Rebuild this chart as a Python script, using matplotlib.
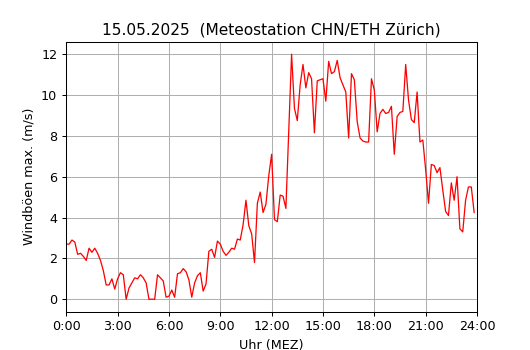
import matplotlib
matplotlib.use("Agg")
import matplotlib.pyplot as plt
import numpy as np

# 10-minute wind gust maxima (m/s), starting 0:00
gusts = [
    2.7, 2.7, 2.9, 2.8, 2.2, 2.25, 2.1, 1.9, 2.5, 2.3,
    2.5, 2.25, 1.9, 1.4, 0.7, 0.7, 1.0, 0.5, 1.0, 1.3,
    1.2, 0.0, 0.55, 0.8, 1.05, 1.0, 1.2, 1.05, 0.8, 0.0,
    0.0, 0.0, 1.2, 1.05, 0.9, 0.1, 0.15, 0.45, 0.1, 1.25,
    1.3, 1.5, 1.35, 0.95, 0.1, 0.8, 1.15, 1.3, 0.4, 0.75,
    2.35, 2.45, 2.05, 2.85, 2.7, 2.35, 2.15, 2.3, 2.5, 2.45,
    2.95, 2.9, 3.65, 4.85, 3.6, 3.2, 1.8, 4.7, 5.25, 4.25,
    4.65, 6.05, 7.1, 3.9, 3.8, 5.1, 5.05, 4.45, 8.2, 12.0,
    9.35, 8.75, 10.5, 11.5, 10.35, 11.1, 10.8, 8.15, 10.7, 10.75,
    10.8, 9.7, 11.65, 11.05, 11.15, 11.7, 10.85, 10.5, 10.15, 7.9,
    11.05, 10.75, 8.7, 7.9, 7.75, 7.7, 7.7, 10.8, 10.25, 8.2,
    9.1, 9.3, 9.1, 9.15, 9.45, 7.1, 8.95, 9.15, 9.2, 11.5,
    9.75, 8.8, 8.65, 10.15, 7.7, 7.8, 6.35, 4.7, 6.6, 6.55,
    6.2, 6.45, 5.35, 4.3, 4.1, 5.7, 4.85, 6.0, 3.45, 3.3,
    4.85, 5.5, 5.5, 4.25,
]
tick_hours = [0, 3, 6, 9, 12, 15, 18, 21, 24]
tick_labels = ["0:00", "3:00", "6:00", "9:00", "12:00", "15:00", "18:00", "21:00", "24:00"]

hours = np.arange(len(gusts)) / 6.0

DPI = 92
fig, ax = plt.subplots(figsize=(530 / DPI, 350 / DPI), dpi=DPI)
ax.plot(hours, gusts, color="red", linewidth=1.0)
ax.set_xlim(0, 24)
ax.set_xticks(tick_hours)
ax.set_xticklabels(tick_labels)
ax.grid(True, color="#b0b0b0")
ax.set_title("15.05.2025  (Meteostation CHN/ETH Zürich)")
ax.set_xlabel("Uhr (MEZ)")
ax.set_ylabel("Windböen max. (m/s)")
fig.savefig("out.png", dpi=DPI)
